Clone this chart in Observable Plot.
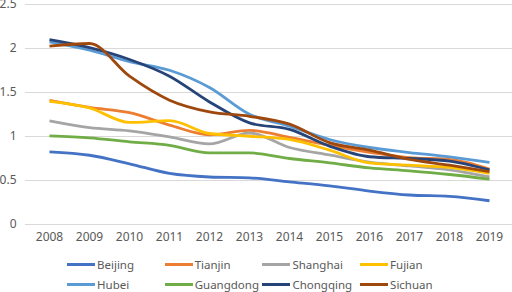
<!DOCTYPE html>
<html>
<head>
<meta charset="utf-8">
<script src="https://cdn.jsdelivr.net/npm/d3@7"></script>
<script src="https://cdn.jsdelivr.net/npm/@observablehq/plot@0.6"></script>
<style>
  html, body { margin: 0; padding: 0; background: #fff; }
  body { width: 512px; height: 292px; overflow: hidden; font-family: "Noto Sans", sans-serif; }
  #legend { display: grid; grid-template-columns: repeat(4, 97.7px); padding-left: 67px; margin-top: 4px; }
  .item { height: 20px; display: flex; align-items: center; font-size: 11.5px; color: #595959; white-space: nowrap; }
  .sw { display: inline-block; width: 28px; height: 3px; margin-right: 2px; }
</style>
</head>
<body>
<div id="chart"></div>
<div id="legend"></div>
<script>
const years = [2008, 2009, 2010, 2011, 2012, 2013, 2014, 2015, 2016, 2017, 2018, 2019];
const seriesNames = ["Beijing", "Tianjin", "Shanghai", "Fujian", "Hubei", "Guangdong", "Chongqing", "Sichuan"];
const colors = ["#4472C4", "#ED7D31", "#A5A5A5", "#FFC000", "#5B9BD5", "#70AD47", "#264478", "#9E480E"];
const yTicks = [0, 0.5, 1, 1.5, 2, 2.5];

const beijing   = [0.825, 0.787, 0.69, 0.58, 0.54, 0.53, 0.485, 0.44, 0.38, 0.335, 0.32, 0.27];
const tianjin   = [1.41, 1.33, 1.27, 1.13, 1.02, 1.07, 0.99, 0.90, 0.82, 0.76, 0.74, 0.63];
const shanghai  = [1.177, 1.10, 1.064, 0.995, 0.916, 1.04, 0.875, 0.79, 0.71, 0.665, 0.62, 0.54];
const fujian    = [1.40, 1.325, 1.16, 1.18, 1.034, 1.003, 0.966, 0.845, 0.70, 0.674, 0.648, 0.58];
const hubei     = [2.075, 1.98, 1.85, 1.753, 1.557, 1.253, 1.117, 0.966, 0.875, 0.818, 0.768, 0.705];
const guangdong = [1.007, 0.985, 0.94, 0.90, 0.814, 0.814, 0.75, 0.70, 0.643, 0.61, 0.568, 0.515];
const chongqing = [2.10, 2.01, 1.875, 1.685, 1.393, 1.155, 1.08, 0.89, 0.77, 0.75, 0.72, 0.62];
const sichuan   = [2.026, 2.057, 1.685, 1.413, 1.28, 1.23, 1.14, 0.93, 0.845, 0.74, 0.674, 0.60];

const seriesValues = [beijing, tianjin, shanghai, fujian, hubei, guangdong, chongqing, sichuan];

const data = [];
seriesNames.forEach((name, i) => {
  seriesValues[i].forEach((v, j) => data.push({series: name, year: years[j], value: v}));
});

const chart = Plot.plot({
  width: 512,
  height: 250,
  marginLeft: 25,
  marginRight: 0,
  marginTop: 4,
  marginBottom: 26,
  style: {fontFamily: "'Noto Sans', sans-serif", fontSize: "12px", color: "#595959", background: "#fff"},
  x: {type: "point", domain: years, padding: 0.5, label: null},
  y: {domain: [0, 2.5], label: null},
  color: {domain: seriesNames, range: colors},
  marks: [
    Plot.gridY(yTicks, {stroke: "#d9d9d9", strokeOpacity: 1, strokeWidth: 1}),
    Plot.axisY(yTicks, {tickSize: 0, tickPadding: 9, tickFormat: d => String(d), label: null, fill: "#595959"}),
    Plot.axisX(years, {tickSize: 0, tickPadding: 8, tickFormat: d => String(d), label: null, fill: "#595959"}),
    Plot.line(data, {x: "year", y: "value", z: "series", stroke: "series", strokeWidth: 2.8, curve: "monotone-x", strokeLinejoin: "round", strokeLinecap: "butt"})
  ]
});
document.getElementById("chart").appendChild(chart);

const legend = document.getElementById("legend");
seriesNames.forEach((name, i) => {
  const item = document.createElement("div");
  item.className = "item";
  const sw = document.createElement("span");
  sw.className = "sw";
  sw.style.background = colors[i];
  item.appendChild(sw);
  item.appendChild(document.createTextNode(name));
  legend.appendChild(item);
});
</script>
</body>
</html>
